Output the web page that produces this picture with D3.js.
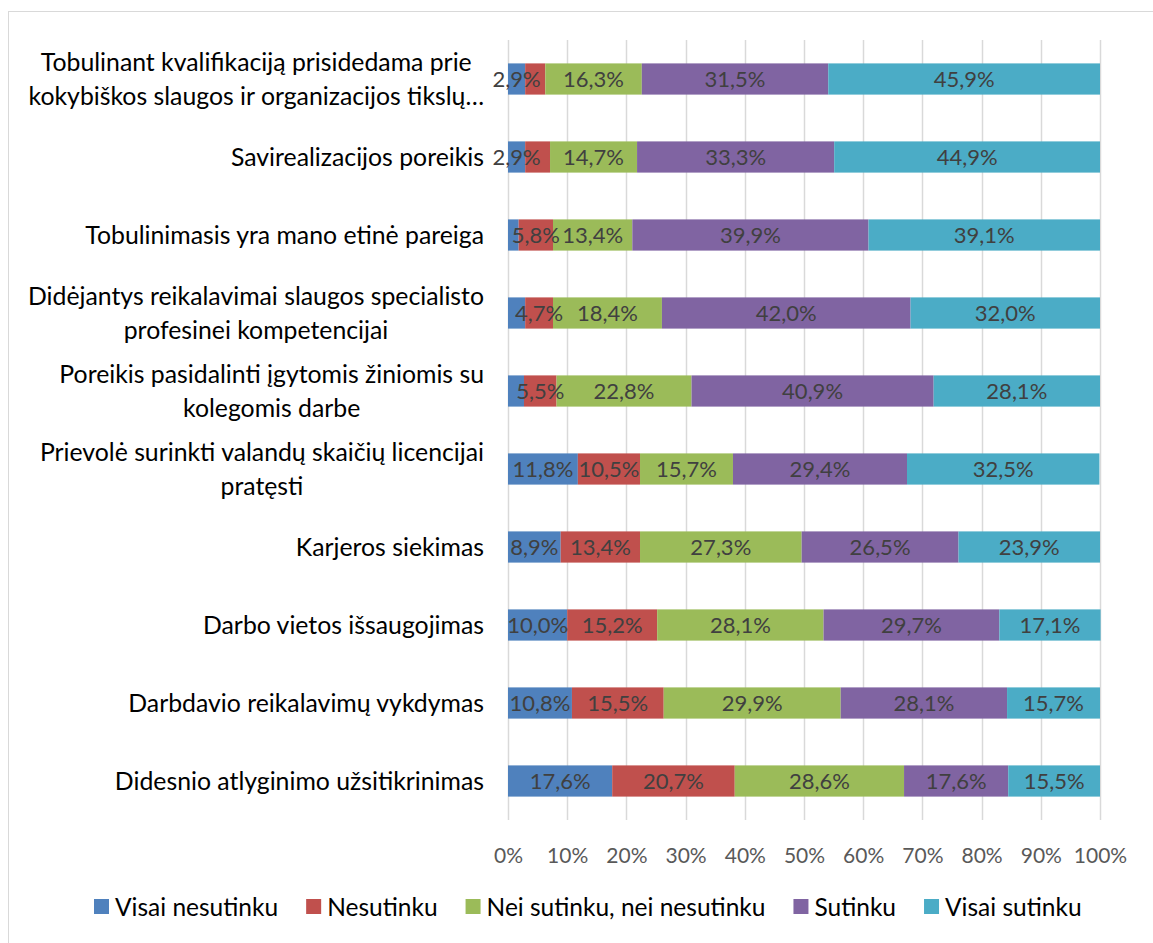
<!DOCTYPE html>
<html>
<head>
<meta charset="utf-8">
<script src="https://cdn.jsdelivr.net/npm/d3@7"></script>
<style>
  body { margin: 0; background: #fff; }
  svg text { font-family: Lato, "Open Sans", sans-serif; }
</style>
</head>
<body>
<div id="chart"></div>
<script>
const categories = [
  ["Tobulinant kvalifikaciją prisidedama prie", "kokybiškos slaugos ir organizacijos tikslų…"],
  ["Savirealizacijos poreikis"],
  ["Tobulinimasis yra mano etinė pareiga"],
  ["Didėjantys reikalavimai slaugos specialisto", "profesinei kompetencijai"],
  ["Poreikis pasidalinti įgytomis žiniomis su", "kolegomis darbe"],
  ["Prievolė surinkti valandų skaičių licencijai", "pratęsti"],
  ["Karjeros siekimas"],
  ["Darbo vietos išsaugojimas"],
  ["Darbdavio reikalavimų vykdymas"],
  ["Didesnio atlyginimo užsitikrinimas"]
];
const seriesNames = ["Visai nesutinku", "Nesutinku", "Nei sutinku, nei nesutinku", "Sutinku", "Visai sutinku"];
const colors = ["#4f81bd", "#c0504d", "#9bbb59", "#8064a2", "#4bacc6"];

const visaiNesutinku = [2.9, 2.9, 1.8, 2.9, 2.7, 11.8, 8.9, 10.0, 10.8, 17.6];
const nesutinku      = [3.4, 4.2, 5.8, 4.7, 5.5, 10.5, 13.4, 15.2, 15.5, 20.7];
const neiSutinku     = [16.3, 14.7, 13.4, 18.4, 22.8, 15.7, 27.3, 28.1, 29.9, 28.6];
const sutinku        = [31.5, 33.3, 39.9, 42.0, 40.9, 29.4, 26.5, 29.7, 28.1, 17.6];
const visaiSutinku   = [45.9, 44.9, 39.1, 32.0, 28.1, 32.5, 23.9, 17.1, 15.7, 15.5];

// labels Excel dropped because they overlapped: [row, series]
const hiddenLabels = [[0, 1], [1, 1], [2, 0], [3, 0], [4, 0]];

const ticks = [0, 10, 20, 30, 40, 50, 60, 70, 80, 90, 100];

const width = 1153, height = 943;
const margin = {top: 40, right: 53, bottom: 123, left: 508};

const svg = d3.select("#chart").append("svg")
  .attr("width", width).attr("height", height);

// chart frame
svg.append("rect")
  .attr("x", 8.5).attr("y", 11.5)
  .attr("width", 1200).attr("height", 1000)
  .attr("fill", "none").attr("stroke", "#d9d9d9");

const rows = categories.map((c, i) => ({
  i: i,
  values: [visaiNesutinku[i], nesutinku[i], neiSutinku[i], sutinku[i], visaiSutinku[i]]
}));

const x = d3.scaleLinear().domain([0, 100]).range([margin.left, width - margin.right]);
const y = d3.scaleBand().domain(d3.range(categories.length))
  .range([margin.top, height - margin.bottom]).paddingInner(0.6).paddingOuter(0.3);

// gridlines
svg.append("g")
  .selectAll("line")
  .data(ticks)
  .enter()
  .append("line")
  .attr("x1", d => Math.round(x(d)) + 0.5).attr("x2", d => Math.round(x(d)) + 0.5)
  .attr("y1", margin.top).attr("y2", height - margin.bottom)
  .attr("stroke", "#d9d9d9").attr("stroke-width", 1.5);

// x axis
const xAxis = svg.append("g")
  .attr("transform", "translate(0," + (height - margin.bottom) + ")")
  .call(d3.axisBottom(x).tickValues(ticks).tickFormat(d => d + "%").tickSize(0).tickPadding(28));
xAxis.select(".domain").remove();
xAxis.selectAll("text").attr("font-size", 21).attr("fill", "#595959")
  .style("font-family", "Lato, sans-serif");

const stack = d3.stack().keys(d3.range(5)).value((d, k) => d.values[k]);
const layers = stack(rows);

const isHidden = (r, s) => hiddenLabels.some(h => h[0] === r && h[1] === s);

layers.forEach((layer, s) => {
  const g = svg.append("g");
  g.selectAll("rect")
    .data(layer)
    .enter()
    .append("rect")
    .attr("x", d => x(d[0]))
    .attr("width", d => x(d[1]) - x(d[0]))
    .attr("y", (d, i) => y(i))
    .attr("height", y.bandwidth())
    .attr("fill", colors[s]);
});

layers.forEach((layer, s) => {
  svg.append("g")
    .selectAll("text")
    .data(layer.filter((d, i) => !isHidden(i, s)).map(d => ({d: d, i: rows.indexOf(d.data)})))
    .enter()
    .append("text")
    .attr("x", o => (x(o.d[0]) + x(o.d[1])) / 2)
    .attr("y", o => y(o.i) + y.bandwidth() / 2)
    .attr("dy", "0.36em")
    .attr("text-anchor", "middle")
    .attr("font-size", 22)
    .attr("fill", "#404040")
    .text(o => rows[o.i].values[s].toFixed(1).replace(".", ",") + "%");
});

// category labels, multi-line centred on each other, right edge at 484
const catG = svg.append("g");
categories.forEach((lines, i) => {
  const cy = y(i) + y.bandwidth() / 2;
  const t = catG.append("text")
    .attr("font-size", 24.8).attr("fill", "#000");
  const lineH = 34;
  lines.forEach((ln, k) => {
    t.append("tspan").text(ln)
      .attr("y", cy + (k - (lines.length - 1) / 2) * lineH)
      .attr("dy", "0.36em");
  });
  const widths = [];
  t.selectAll("tspan").each(function () { widths.push(this.getComputedTextLength()); });
  const maxW = d3.max(widths);
  const center = 484 - maxW / 2;
  t.attr("text-anchor", "middle");
  t.selectAll("tspan").attr("x", center);
});

// legend
const legendY = 907;
const legend = svg.append("g");
let lx = 94;
seriesNames.forEach((name, s) => {
  legend.append("rect")
    .attr("x", lx).attr("y", legendY - 8)
    .attr("width", 15).attr("height", 15)
    .attr("fill", colors[s]);
  const t = legend.append("text")
    .attr("x", lx + 21).attr("y", legendY)
    .attr("dy", "0.36em")
    .attr("font-size", 24.5).attr("fill", "#000")
    .text(name);
  lx += 21 + t.node().getComputedTextLength() + 28;
});
</script>
</body>
</html>
